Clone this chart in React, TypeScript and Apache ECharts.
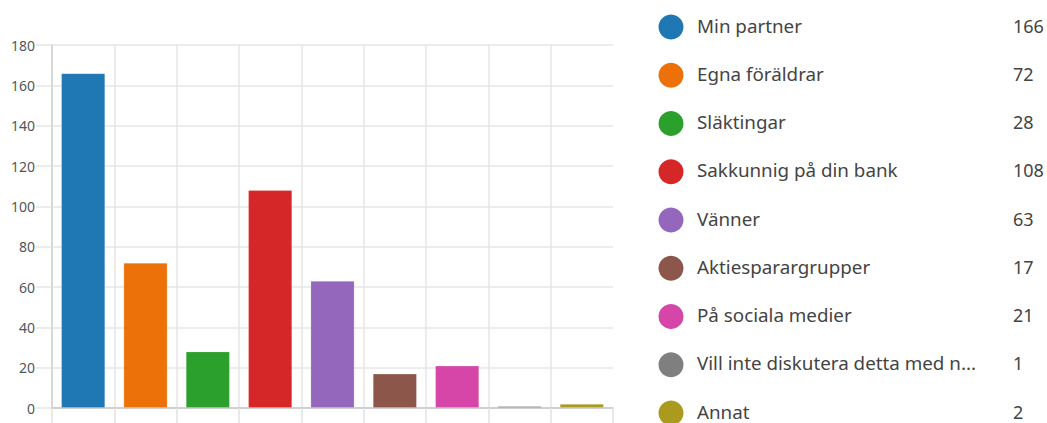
import React, { useEffect, useRef } from "react";
import * as echarts from "echarts";

const categories = [
  "Min partner",
  "Egna föräldrar",
  "Släktingar",
  "Sakkunnig på din bank",
  "Vänner",
  "Aktiesparargrupper",
  "På sociala medier",
  "Vill inte diskutera detta med n...",
  "Annat",
];
const values = [166, 72, 28, 108, 63, 17, 21, 1, 2];
const colors = [
  "#1f77b4",
  "#ec7109",
  "#2ca02c",
  "#d62728",
  "#9467bd",
  "#8c564b",
  "#d546a8",
  "#7f7f7f",
  "#aa9a1e",
];

const FONT = "'Noto Sans', 'Open Sans', sans-serif";

export default function App() {
  const ref = useRef<HTMLDivElement>(null);
  useEffect(() => {
    if (!ref.current) return;
    const chart = echarts.init(ref.current, null, { renderer: "svg" });
    const legendTop = 27;
    const legendStep = 48.25;
    const graphic: any[] = [];
    categories.forEach((c, i) => {
      const y = legendTop + legendStep * i;
      graphic.push({
        type: "circle",
        shape: { cx: 671, cy: y, r: 12.5 },
        style: { fill: colors[i] },
      });
      graphic.push({
        type: "text",
        x: 697,
        y: y - 1.5,
        style: {
          text: c,
          fill: "#444",
          font: `18.8px ${FONT}`,
          verticalAlign: "middle",
          align: "left",
        },
      });
      graphic.push({
        type: "text",
        x: 1013,
        y: y - 1.5,
        style: {
          text: String(values[i]),
          fill: "#444",
          font: `18px ${FONT}`,
          verticalAlign: "middle",
          align: "left",
        },
      });
    });
    chart.setOption({
      animation: false,
      grid: { left: 52, right: 434, top: 45, bottom: 15, containLabel: false },
      xAxis: {
        type: "category",
        data: categories,
        boundaryGap: true,
        axisLabel: { show: false, interval: 0 },
        axisLine: { lineStyle: { color: "#c6c6c6", width: 1.5 } },
        axisTick: {
          show: true,
          interval: 0,
          length: 16,
          lineStyle: { color: "#e2e2e2", width: 1.5 },
        },
        splitLine: {
          show: true,
          interval: 0,
          showMaxLine: false,
          lineStyle: { color: "#e6e6e6", width: 1.5 },
        },
      },
      yAxis: {
        type: "value",
        min: 0,
        max: 180,
        interval: 20,
        axisLine: { show: true, lineStyle: { color: "#d2d2d2", width: 1.5 } },
        axisTick: { show: true, length: 16, lineStyle: { color: "#e6e6e6", width: 1.5 } },
        axisLabel: { color: "#555", fontSize: 14, fontFamily: FONT, margin: 17 },
        splitLine: { show: true, lineStyle: { color: "#e6e6e6", width: 1.5 } },
      },
      series: [
        {
          type: "bar",
          barWidth: 44,
          data: values.map((v, i) => ({
            value: v,
            itemStyle: {
              color: colors[i],
              borderColor: "rgba(255,255,255,0.25)",
              borderWidth: 0.8,
            },
          })),
        },
      ],
      graphic,
    });
    return () => chart.dispose();
  }, []);
  return (
    <div
      ref={ref}
      style={{ position: "fixed", left: 0, top: 0, width: 1047, height: 423, background: "#fff" }}
    />
  );
}
